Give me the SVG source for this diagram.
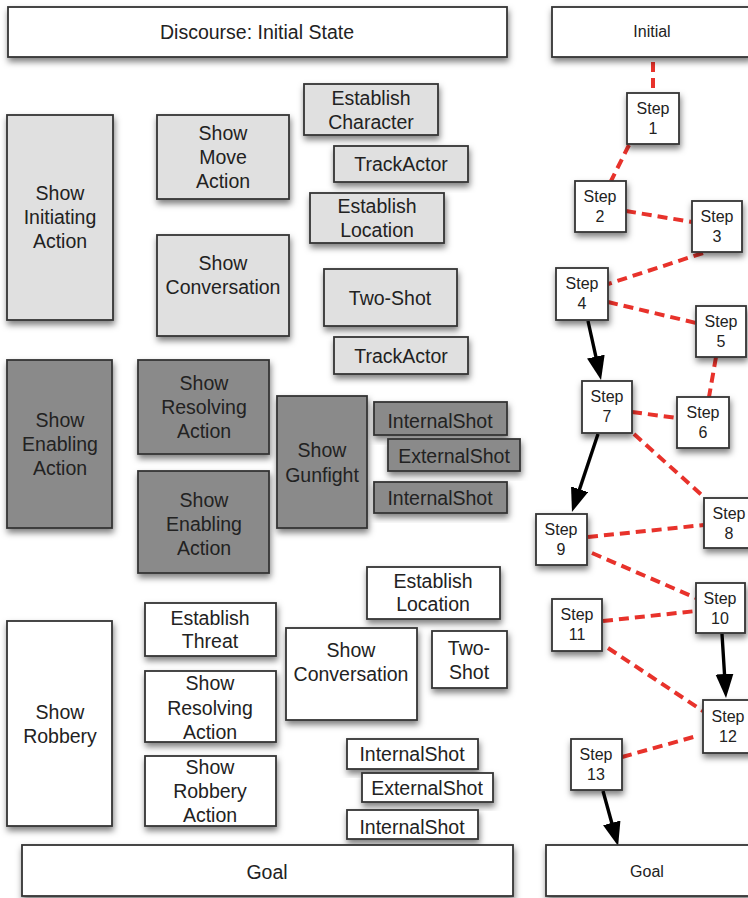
<svg xmlns="http://www.w3.org/2000/svg" width="748" height="898" viewBox="0 0 748 898">
  <style>
    rect { stroke: #333; stroke-width: 1.8; filter: url(#shadow); }
    .w { fill: #ffffff; }
    .l { fill: #e0e0e0; }
    .d { fill: #8a8a8a; }
    text { font-family: "Liberation Sans", Arial, sans-serif; font-size: 19.5px; fill: #222; text-anchor: middle; }
    .s text { font-size: 16px; }
    .plan line { stroke: #e8322b; stroke-width: 4; stroke-dasharray: 10 6; fill: none; }
    .order line { stroke: #000; stroke-width: 3.4; marker-end: url(#arrow); }
  </style>
  <defs>
    <filter id="shadow" x="-20%" y="-20%" width="140%" height="150%">
      <feDropShadow dx="1" dy="4" stdDeviation="3" flood-color="#000" flood-opacity="0.5"/>
    </filter>
    <marker id="arrow" markerUnits="userSpaceOnUse" markerWidth="26" markerHeight="20" refX="16" refY="9" orient="auto">
      <path d="M0,0 L24,9 L0,18 Z" fill="#000"/>
    </marker>
  </defs>
  <rect width="748" height="898" fill="#fff" style="stroke:none;filter:none"/>

  <!-- Discourse tree -->
  <g id="discourse-initial"><rect class="w" x="8" y="7" width="499" height="50"/><text x="257" y="39">Discourse: Initial State</text></g>

  <g id="establish-character"><rect class="l" x="304" y="84" width="134" height="51"/><text x="371" y="105">Establish</text><text x="371" y="129">Character</text></g>
  <g id="trackactor-1"><rect class="l" x="334" y="146" width="134" height="36"/><text x="401" y="171">TrackActor</text></g>
  <g id="establish-location-1"><rect class="l" x="310" y="193" width="134" height="50"/><text x="377" y="213">Establish</text><text x="377" y="237">Location</text></g>
  <g id="show-move-action"><rect class="l" x="157" y="115" width="132" height="84"/><text x="223" y="140">Show</text><text x="223" y="164">Move</text><text x="223" y="188">Action</text></g>
  <g id="show-initiating-action"><rect class="l" x="7" y="115" width="106" height="205"/><text x="60" y="200">Show</text><text x="60" y="224">Initiating</text><text x="60" y="248">Action</text></g>
  <g id="show-conversation-1"><rect class="l" x="157" y="235" width="132" height="101"/><text x="223" y="270">Show</text><text x="223" y="294">Conversation</text></g>
  <g id="two-shot-1"><rect class="l" x="324" y="269" width="133" height="57"/><text x="390" y="305">Two-Shot</text></g>
  <g id="trackactor-2"><rect class="l" x="334" y="337" width="134" height="37"/><text x="401" y="363">TrackActor</text></g>

  <g id="show-enabling-action"><rect class="d" x="7" y="360" width="105" height="168"/><text x="60" y="427">Show</text><text x="60" y="451">Enabling</text><text x="60" y="475">Action</text></g>
  <g id="show-resolving-action-1"><rect class="d" x="138" y="360" width="131" height="94"/><text x="204" y="390">Show</text><text x="204" y="414">Resolving</text><text x="204" y="438">Action</text></g>
  <g id="show-enabling-action-2"><rect class="d" x="138" y="471" width="131" height="102"/><text x="204" y="507">Show</text><text x="204" y="531">Enabling</text><text x="204" y="555">Action</text></g>
  <g id="show-gunfight"><rect class="d" x="277" y="396" width="90" height="132"/><text x="322" y="457">Show</text><text x="322" y="482">Gunfight</text></g>
  <g id="internalshot-1"><rect class="d" x="374" y="402" width="133" height="33"/><text x="440" y="428">InternalShot</text></g>
  <g id="externalshot-1"><rect class="d" x="388" y="439" width="132" height="32"/><text x="454" y="463">ExternalShot</text></g>
  <g id="internalshot-2"><rect class="d" x="374" y="482" width="133" height="31"/><text x="440" y="505">InternalShot</text></g>

  <g id="establish-location-2"><rect class="w" x="367" y="567" width="133" height="52"/><text x="433" y="588">Establish</text><text x="433" y="611">Location</text></g>
  <g id="establish-threat"><rect class="w" x="145" y="603" width="131" height="53"/><text x="210" y="625">Establish</text><text x="210" y="648">Threat</text></g>
  <g id="show-robbery"><rect class="w" x="7" y="621" width="105" height="205"/><text x="60" y="719">Show</text><text x="60" y="743">Robbery</text></g>
  <g id="show-conversation-2"><rect class="w" x="286" y="628" width="131" height="92"/><text x="351" y="657">Show</text><text x="351" y="681">Conversation</text></g>
  <g id="two-shot-2"><rect class="w" x="432" y="631" width="75" height="57"/><text x="469" y="655">Two-</text><text x="469" y="679">Shot</text></g>
  <g id="show-resolving-action-2"><rect class="w" x="145" y="671" width="131" height="71"/><text x="210" y="690">Show</text><text x="210" y="715">Resolving</text><text x="210" y="739">Action</text></g>
  <g id="show-robbery-action"><rect class="w" x="145" y="756" width="131" height="70"/><text x="210" y="774">Show</text><text x="210" y="798">Robbery</text><text x="210" y="822">Action</text></g>
  <g id="internalshot-3"><rect class="w" x="347" y="739" width="131" height="30"/><text x="412" y="761">InternalShot</text></g>
  <g id="externalshot-2"><rect class="w" x="362" y="773" width="131" height="29"/><text x="427" y="795">ExternalShot</text></g>
  <g id="internalshot-4"><rect class="w" x="347" y="810" width="131" height="29"/><text x="412" y="834">InternalShot</text></g>
  <g id="discourse-goal"><rect class="w" x="22" y="845" width="491" height="51"/><text x="267" y="879">Goal</text></g>

  <!-- Plan connectors -->
  <g id="connectors">
    <g class="plan">
      <line x1="653" y1="62" x2="653" y2="93"/>
      <line x1="629" y1="145" x2="611" y2="181"/>
      <line x1="626" y1="211" x2="692" y2="222"/>
      <line x1="703" y1="253" x2="608" y2="284"/>
      <line x1="608" y1="302" x2="696" y2="323"/>
      <line x1="716" y1="357" x2="709" y2="397"/>
      <line x1="632" y1="412" x2="677" y2="418"/>
      <line x1="634" y1="434" x2="705" y2="498"/>
      <line x1="588" y1="537" x2="704" y2="525"/>
      <line x1="592" y1="553" x2="696" y2="598"/>
      <line x1="603" y1="621" x2="696" y2="611"/>
      <line x1="608" y1="648" x2="703" y2="711"/>
      <line x1="622" y1="757" x2="697" y2="736"/>
    </g>
    <g class="order">
      <line x1="588" y1="321" x2="599.3" y2="372.2"/>
      <line x1="598" y1="434" x2="574.5" y2="504.4"/>
      <line x1="722" y1="634" x2="725.5" y2="690"/>
      <line x1="603" y1="791" x2="616" y2="838.3"/>
    </g>
  </g>

  <!-- Story plan -->
  <g class="s">
    <g id="initial"><rect class="w" x="552" y="7" width="198" height="50"/><text x="652" y="37">Initial</text></g>
    <g id="step-1"><rect class="w" x="627" y="93" width="52" height="51"/><text x="653" y="114">Step</text><text x="653" y="134">1</text></g>
    <g id="step-2"><rect class="w" x="575" y="181" width="51" height="51"/><text x="600" y="202">Step</text><text x="600" y="222">2</text></g>
    <g id="step-3"><rect class="w" x="692" y="201" width="50" height="51"/><text x="717" y="222">Step</text><text x="717" y="242">3</text></g>
    <g id="step-4"><rect class="w" x="556" y="268" width="52" height="52"/><text x="582" y="289">Step</text><text x="582" y="309">4</text></g>
    <g id="step-5"><rect class="w" x="696" y="306" width="50" height="51"/><text x="721" y="327">Step</text><text x="721" y="347">5</text></g>
    <g id="step-6"><rect class="w" x="677" y="397" width="52" height="51"/><text x="703" y="418">Step</text><text x="703" y="438">6</text></g>
    <g id="step-7"><rect class="w" x="582" y="381" width="50" height="52"/><text x="607" y="402">Step</text><text x="607" y="422">7</text></g>
    <g id="step-8"><rect class="w" x="704" y="498" width="52" height="50"/><text x="729" y="519">Step</text><text x="729" y="539">8</text></g>
    <g id="step-9"><rect class="w" x="536" y="514" width="51" height="51"/><text x="561" y="535">Step</text><text x="561" y="555">9</text></g>
    <g id="step-10"><rect class="w" x="696" y="583" width="49" height="50"/><text x="720" y="604">Step</text><text x="720" y="624">10</text></g>
    <g id="step-11"><rect class="w" x="552" y="599" width="50" height="52"/><text x="577" y="620">Step</text><text x="577" y="640">11</text></g>
    <g id="step-12"><rect class="w" x="703" y="700" width="52" height="53"/><text x="728" y="722">Step</text><text x="728" y="742">12</text></g>
    <g id="step-13"><rect class="w" x="571" y="739" width="51" height="51"/><text x="596" y="760">Step</text><text x="596" y="780">13</text></g>
    <g id="goal"><rect class="w" x="546" y="845" width="204" height="51"/><text x="647" y="877">Goal</text></g>
  </g>
</svg>
